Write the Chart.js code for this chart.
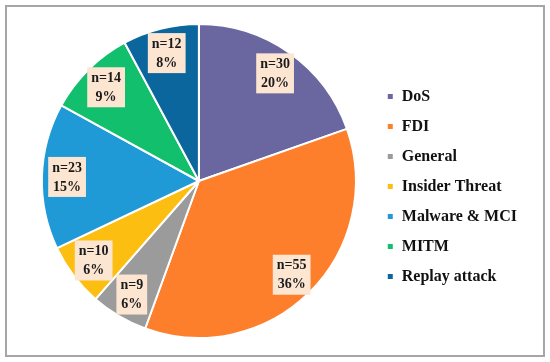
<!DOCTYPE html>
<html>
<head>
<meta charset="utf-8">
<script src="https://cdn.jsdelivr.net/npm/chart.js@4"></script>
<style>
  body { margin: 0; background: #fff; }
  #wrap { position: relative; width: 550px; height: 362px; }
  #frame { position: absolute; left: 5px; top: 5px; width: 536px; height: 348px; border: 2px solid #a6a6a6; }
  canvas { position: absolute; left: 0; top: 0; }
</style>
</head>
<body>
<div id="wrap">
  <div id="frame"></div>
  <canvas id="pieChart" width="550" height="362"></canvas>
</div>
<script>
// Attack categories and number of papers in each
const categories = ['DoS', 'FDI', 'General', 'Insider Threat', 'Malware & MCI', 'MITM', 'Replay attack'];
const counts = [30, 55, 9, 10, 23, 14, 12];
const percents = [20, 36, 6, 6, 15, 9, 8];
const colors = ['#6a66a0', '#fd7f2c', '#9b9b9b', '#fdbe12', '#1f9ad6', '#12bf6c', '#0c669e'];

// draws the "n=.. / ..%" boxes inside each slice
const sliceLabels = {
    id: 'sliceLabels',
    afterDatasetsDraw(chart) {
        const ctx = chart.ctx;
        const meta = chart.getDatasetMeta(0);
        ctx.save();
        ctx.font = 'bold 14px "Liberation Serif", serif';
        ctx.textAlign = 'center';
        ctx.textBaseline = 'middle';
        meta.data.forEach((arc, i) => {
            const mid = (arc.startAngle + arc.endAngle) / 2;
            const r = arc.outerRadius * 0.84;
            const x = arc.x + Math.cos(mid) * r;
            const y = arc.y + Math.sin(mid) * r;
            const l1 = 'n=' + counts[i];
            const l2 = percents[i] + '%';
            const w = Math.max(ctx.measureText(l1).width, ctx.measureText(l2).width) + 8;
            const h = 40;
            ctx.fillStyle = '#fce6d2';
            ctx.fillRect(x - w / 2, y - h / 2, w, h);
            ctx.fillStyle = '#1a1a1a';
            ctx.fillText(l1, x, y - 9);
            ctx.fillText(l2, x, y + 10);
        });
        ctx.restore();
    }
};

const pieCtx = document.getElementById('pieChart').getContext('2d');
new Chart(pieCtx, {
    type: 'pie',
    data: {
        labels: categories,
        datasets: [{
            data: counts,
            backgroundColor: colors,
            borderColor: '#ffffff',
            borderWidth: 2
        }]
    },
    options: {
        responsive: false,
        animation: false,
        layout: { padding: { top: 23, bottom: 23, left: 25, right: 23 } },
        plugins: {
            legend: {
                position: 'right',
                title: { display: true, text: '', font: { size: 1 }, padding: { top: 5, bottom: 5 } },
                labels: {
                    boxWidth: 7,
                    boxHeight: 7,
                    padding: 14,
                    color: '#111',
                    font: { family: '"Liberation Serif", serif', size: 16, weight: 'bold' }
                }
            },
            tooltip: { enabled: false }
        }
    },
    plugins: [sliceLabels]
});
</script>
</body>
</html>
